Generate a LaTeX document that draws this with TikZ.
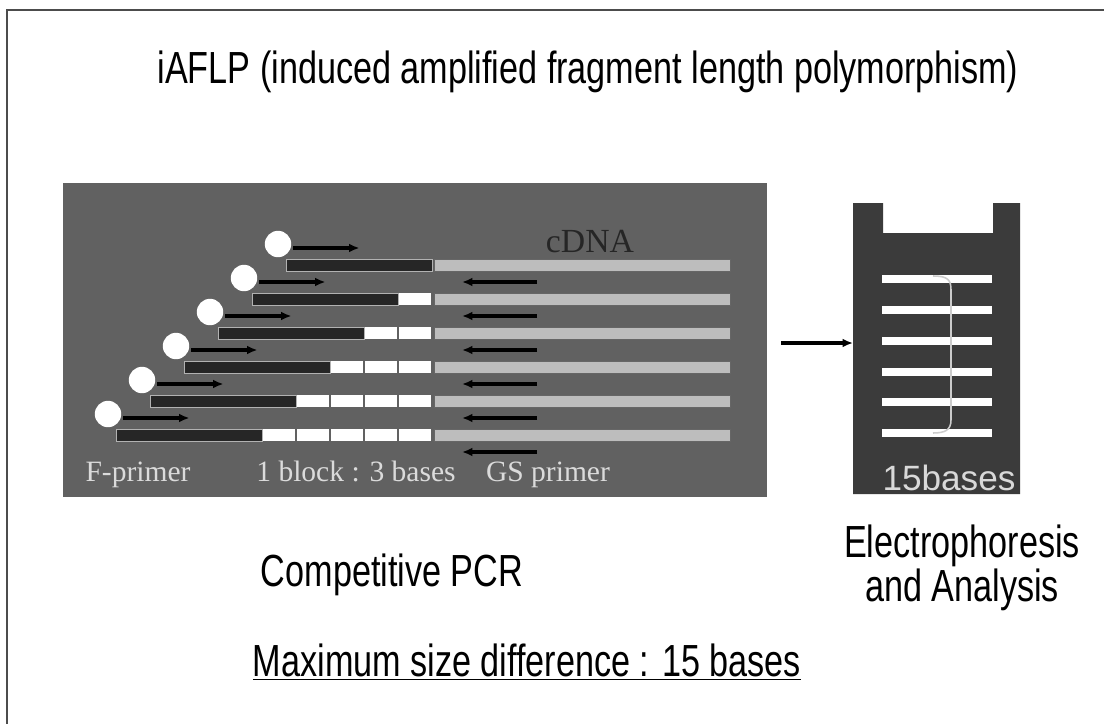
\documentclass[tikz,border=0pt]{standalone}
\usepackage{fontspec}
\usepackage{tikz}
\usetikzlibrary{arrows.meta}
\setmainfont{Liberation Sans}
\newfontfamily\narrowsf[FakeStretch=0.76]{Liberation Sans}
\newfontfamily\plainsf{Liberation Sans}
\newfontfamily\scanrm{Liberation Serif}
\definecolor{scangray}{gray}{0.38}
\definecolor{gelgray}{gray}{0.23}
\definecolor{cdnagray}{gray}{0.74}
\definecolor{fraggray}{gray}{0.15}
\definecolor{inkgray}{gray}{0.86}

\tikzset{
  bigtext/.style={font=\narrowsf\fontsize{32}{31}\selectfont},
  scanlabel/.style={font=\scanrm\fontsize{21}{24}\selectfont, text=inkgray, anchor=base},
  bead/.style={circle, fill=white, inner sep=0pt, minimum size=0.66cm},
  primer/.style={-{Latex[length=2.6mm,width=2.2mm]}, line width=2.2pt},
}

\begin{document}
\begin{tikzpicture}[x=0.025cm, y=-0.025cm]
    \useasboundingbox (0,0) rectangle (1104,724);
    \draw[line width=0.9pt, black!70] (1104,10) -- (7,10) -- (7,724);

    \node[bigtext] (title) at (588,72) {iAFLP (induced amplified fragment length polymorphism)};

    \fill[scangray] (63,183) rectangle (767,497);
    \node[font=\scanrm\fontsize{24}{26}\selectfont, text=black!85] (cdna) at (590,242) {cDNA};

    \foreach \i in {1,...,6} {
        \pgfmathsetmacro{\yb}{265+34*(\i-1)}
        \pgfmathsetmacro{\xs}{432-34*(\i-1)}
        \filldraw[fill=fraggray, draw=black!30, line width=0.4pt] (\xs-146,\yb-6) rectangle (\xs,\yb+6);
        \foreach \k in {1,...,5} {
            \ifnum\k<\i
                \fill[white] (432-34*\k+1,\yb-6) rectangle (432-34*\k+33,\yb+6);
            \fi
        }
        \filldraw[fill=cdnagray, draw=black!60, line width=0.4pt] (434,\yb-6) rectangle (730,\yb+6);
        \node[bead] (bead\i) at (\xs-154,\yb-21) {};
        \draw[primer] ([shift={(2,4)}]bead\i.east) -- ++(66,0);
        \draw[primer] (537,\yb+17) -- (462,\yb+17);
    }

    \node[scanlabel] (fprimer) at (138,481) {F-primer};
    \node[scanlabel] (block) at (356,481) {1 block : 3 bases};
    \node[scanlabel] (gsprimer) at (548,481) {GS primer};

    \fill[gelgray] (853,203) -- (883,203) -- (883,233) -- (993,233) -- (993,203)
        -- (1020,203) -- (1020,494) -- (853,494) -- cycle;
    \foreach \y in {279,310,341,372,402,433}
        \fill[white] (882,\y-4) rectangle (992,\y+4);
    \draw[black!20, line width=1.1pt] (933,276) .. controls (948,276) and (951,280) .. (951,290)
        -- (951,420) .. controls (951,430) and (945,433) .. (933,433);
    \node[font=\plainsf\fontsize{25}{28}\selectfont, text=black!15] (fifteen) at (949,478) {15bases};

    \coordinate (pcrout) at (781,343);
    \coordinate (gelin) at (853,343);
    \draw[primer] (pcrout) -- (gelin);

    \node[bigtext] (pcrcap) at (392,575) {Competitive PCR};
    \node[bigtext, align=center] (gelcap) at (962,568) {Electrophoresis\\and Analysis};
    \node[bigtext] (maxdiff) at (527,662) {\underline{Maximum size difference : 15 bases}};
\end{tikzpicture}
\end{document}
